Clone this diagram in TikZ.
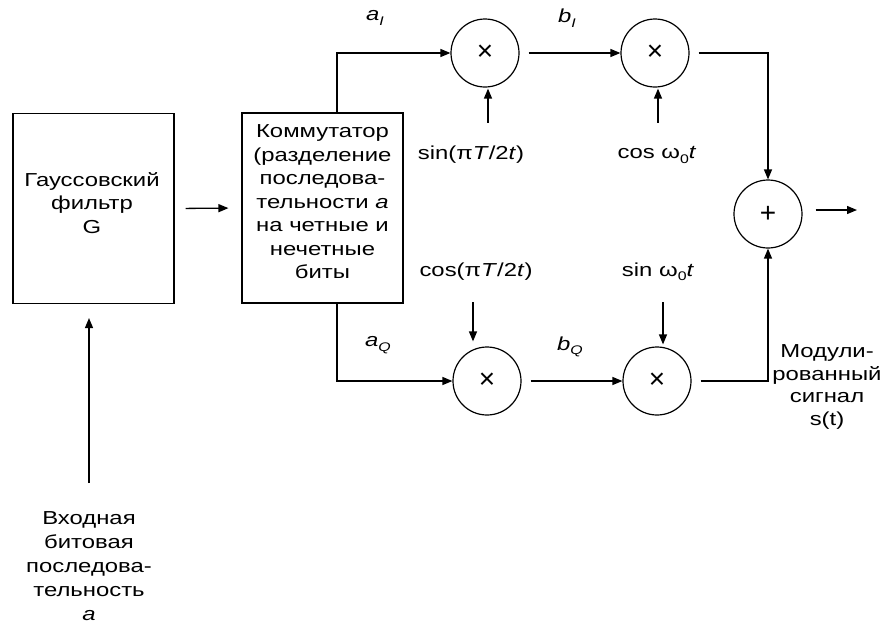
\documentclass[tikz,border=0pt]{standalone}
\usepackage{fontspec}
\setmainfont{Liberation Sans}[FakeStretch=1.27]
\newfontfamily\opfont{Liberation Sans}
\usetikzlibrary{arrows.meta}
\newcommand{\subsc}[1]{\raisebox{-0.45ex}{\fontsize{12.5}{12.5}\selectfont #1}}
\begin{document}
\begin{tikzpicture}[x=1pt,y=-1pt,
  every node/.style={inner sep=0pt, font=\fontsize{18.8}{23.5}\selectfont},
  conn/.style={line width=1.3pt, -{Triangle[length=10pt,width=8pt]}},
  blk/.style={draw, line width=1.1pt, minimum width=161pt, minimum height=190pt},
  op/.style={draw, circle, line width=1.2pt, minimum size=68pt, font=\opfont\fontsize{28}{28}\selectfont},
  txt/.style={align=center}]
\useasboundingbox (0,0) rectangle (884,625);
% blocks
\node[blk] (g) at (93.5,208.5) {};
\node[txt] (gt) at (92,203) {Гауссовский\\фильтр\\G};
\node[blk] (c) at (322.5,208) {};
\node[txt] (ct) at (322.5,202) {Коммутатор\\(разделение\\последова-\\тельности \textit{a}\\на четные и\\нечетные\\биты};
% operators
\node[op] (m1) at (485,53) {×};
\node[op] (m2) at (655,53) {×};
\node[op] (m3) at (487,381) {×};
\node[op] (m4) at (657,381) {×};
\node[op] (add) at (768,214) {+};
% labels
\node (aI) at (375,18) {\textit{a}\subsc{\itshape I}};
\node (bI) at (567,18) {\textit{b}\subsc{\itshape I}};
\node (aQ) at (378,345) {\textit{a}\subsc{\itshape Q}};
\node (bQ) at (570,347) {\textit{b}\subsc{\itshape Q}};
\node (s1) at (471,155) {sin(π\textit{T}/2\textit{t})};
\node (c2) at (657,155) {cos ω\subsc{0}\textit{t}};
\node (c1) at (476,272) {cos(π\textit{T}/2\textit{t})};
\node (s2) at (658,272) {sin ω\subsc{0}\textit{t}};
\node[txt, font=\fontsize{18.8}{24}\selectfont] (inT) at (89,566) {Входная\\битовая\\последова-\\тельность\\\textit{a}};
\node[txt, font=\fontsize{18.8}{22.7}\selectfont] (outT) at (827,387) {Модули-\\рованный\\сигнал\\s(t)};
% connectors
\draw[conn, shorten <=11pt, shorten >=13pt] (g.east) -- (c.west);
\coordinate (inp) at (89,483);
\draw[conn, shorten >=14pt] (inp) -- (g.south -| inp);
\draw[conn] ([xshift=14.5pt]c.north) |- (m1.west);
\draw[conn] ([xshift=14.5pt]c.south) |- (m3.west);
\draw[conn, shorten <=9pt] (m1.east) -- (m2.west);
\draw[conn, shorten <=9pt] (m3.east) -- (m4.west);
\draw[conn, shorten <=9pt] (m2.east) -| (add.north);
\draw[conn, shorten <=9pt] (m4.east) -| (add.south);
\coordinate (out) at (857,210);
\draw[conn, shorten <=13pt] (add.east |- out) -- (out);
% carrier inputs
\draw[conn] ([xshift=3pt,yshift=-35pt]m1.south) -- ([xshift=3pt,yshift=-1pt]m1.south);
\draw[conn] ([xshift=3pt,yshift=-35pt]m2.south) -- ([xshift=3pt,yshift=-1pt]m2.south);
\draw[conn] ([xshift=-14pt,yshift=44pt]m3.north) -- ([xshift=-14pt,yshift=5pt]m3.north);
\draw[conn] ([xshift=6pt,yshift=44pt]m4.north) -- ([xshift=6pt,yshift=2pt]m4.north);
\end{tikzpicture}
\end{document}
